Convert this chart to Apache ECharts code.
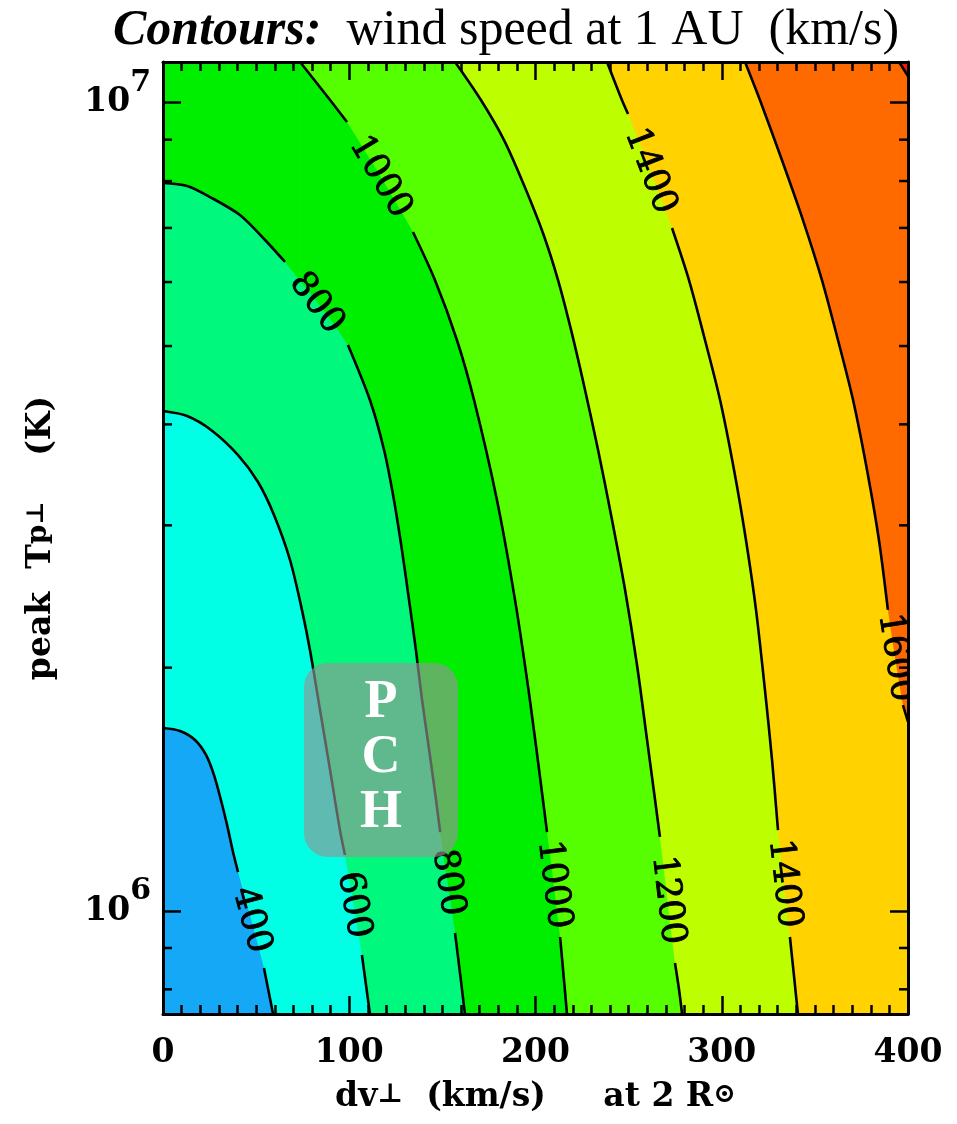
<!DOCTYPE html>
<html>
<head>
<meta charset="utf-8">
<script src="https://cdn.jsdelivr.net/npm/echarts@6/dist/echarts.min.js"></script>
<style>
html,body{margin:0;padding:0;background:#ffffff;}
#c{width:957px;height:1124px;}
</style>
</head>
<body>
<div id="c"></div>
<script>
// ---------- axis ranges & ticks ----------
const DV_MIN = 0, DV_MAX = 400;
const T_MIN = 7.457e5, T_MAX = 1.123e7;
const xTicks = [0, 100, 200, 300, 400];
const yMajorTicks = [1e6, 1e7];
const yMinorTicks = [8e5, 9e5, 2e6, 3e6, 4e6, 5e6, 6e6, 7e6, 8e6, 9e6];

// ---------- contour levels (km/s) and band colours ----------
const levels = [400, 600, 800, 1000, 1200, 1400, 1600, 1800];
const bandColors = ['#14a8f6', '#00ffe4', '#00f97c', '#00ef00', '#55ff00', '#bdff00', '#ffd200', '#ff6a00', '#ff1400'];

// ---------- contour lines [dv (km/s), T (K)]; null = gap where the label sits ----------
const c400 = [[0, 1.684e6], [9.1, 1.67e6], [17.2, 1.628e6], [23.1, 1.56e6], [27.4, 1.473e6], [31.1, 1.372e6],
  [34.4, 1.278e6], [37.6, 1.183e6], [40.3, 1.117e6], null, [54.2, 8.503e5], [59.1, T_MIN]];
const c600 = [[0, 4.155e6], [12.9, 4.097e6], [25.8, 3.937e6], [40.3, 3.665e6], [51.0, 3.394e6], [59.6, 3.09e6],
  [68.2, 2.718e6], [74.6, 2.358e6], [78.9, 2.103e6], [84.3, 1.773e6], [89.7, 1.494e6], [95.0, 1.259e6], [97.7, 1.173e6], null,
  [106.8, 8.822e5], [109.0, 8.099e5], [111.1, T_MIN]];
const c800 = [[0, 7.955e6], [12.9, 7.887e6], [25.2, 7.644e6], [41.3, 7.262e6], [54.8, 6.763e6], [65.5, 6.353e6], null,
  [99.3, 5.015e6], [111.1, 4.287e6], [118.7, 3.718e6], [124.0, 3.225e6], [128.3, 2.796e6], [132.1, 2.426e6], [135.8, 2.103e6],
  [139.1, 1.824e6], [142.9, 1.582e6], [146.6, 1.372e6], [148.8, 1.252e6], null,
  [156.8, 9.392e5], [159.6, 8.334e5], [162.1, T_MIN]];
const c1000 = [[73.6, T_MAX], [89.7, 1.0077e7], [98.8, 9.465e6], null,
  [134.2, 6.918e6], [146.0, 6.034e6], [157.8, 5.087e6], [167.0, 4.287e6], [179.3, 3.225e6], [189.0, 2.426e6],
  [197.0, 1.824e6], [204.0, 1.372e6], [206.2, 1.252e6], null,
  [213.2, 9.286e5], [215.3, 8.215e5], [216.9, T_MIN]];
const c1200 = [[156.8, T_MAX], [170.7, 1.0077e7], [183.1, 8.991e6], [193.8, 7.91e6], [204.0, 6.899e6], [212.1, 6.034e6],
  [219.1, 5.235e6], [226.0, 4.475e6], [233.6, 3.718e6], [241.1, 3.046e6], [248.1, 2.495e6], [254.5, 2.015e6],
  [259.9, 1.628e6], [264.2, 1.372e6], [266.8, 1.235e6], null,
  [274.9, 8.623e5], [277.1, 7.985e5], [278.7, T_MIN]];
const c1400 = [[238.4, T_MAX], [246.4, 1.0077e7], [249.7, 9.683e6], null,
  [273.3, 6.998e6], [282.4, 6.034e6], [291.0, 5.087e6], [299.1, 4.287e6], [306.6, 3.512e6], [313.0, 2.877e6],
  [318.4, 2.358e6], [323.2, 1.877e6], [327.0, 1.538e6], [330.2, 1.259e6], null,
  [336.6, 9.286e5], [339.3, 8.099e5], [340.9, T_MIN]];
const c1600 = [[312.5, T_MAX], [320.5, 1.0077e7], [332.3, 8.493e6], [343.6, 7.159e6], [353.8, 6.034e6], [362.4, 5.087e6],
  [370.5, 4.287e6], [378.0, 3.512e6], [384.4, 2.877e6], [389.2, 2.358e6], null,
  [397.3, 1.798e6], [400, 1.714e6]];
const c1800 = [[395.2, T_MAX], [400, 1.079e7]];
const contours = [c400, c600, c800, c1000, c1200, c1400, c1600, c1800];

// ---------- PCH box: [dv0, T0, dv1, T1] ----------
const pchBox = [75.7, 2.027e6, 158.4, 1.166e6];
const pchLetters = ['P', 'C', 'H'];

// ---------- texts ----------
const titleBold = 'Contours:';
const titleRest = 'wind speed at 1 AU  (km/s)';

const SERIF = '"DejaVu Serif", serif';
const TIMES = '"Liberation Serif", "Times New Roman", serif';
const SMOOTH = 0.3;

const series = [];
const fillSeries = (data, color, smooth) => ({
  type: 'line', data, symbol: 'none', silent: true, smooth,
  lineStyle: {width: 0}, areaStyle: {color, opacity: 1, origin: 'start'}, z: 1
});
// highest band covers the whole plot; each lower band is painted on top, left of its contour
series.push(fillSeries([[DV_MIN, T_MAX], [DV_MAX, T_MAX]], bandColors[levels.length], 0));
for (let i = levels.length - 1; i >= 0; i--) {
  const pts = contours[i].filter(p => p);
  if (pts[0][1] >= T_MAX) {
    series.push(fillSeries([[DV_MIN, T_MAX], [pts[0][0], T_MAX]], bandColors[i], 0));
  }
  series.push(fillSeries(pts, bandColors[i], SMOOTH));
}
// contour lines
contours.forEach(c => {
  series.push({
    type: 'line', data: c.map(p => p ? p : ['-', '-']), symbol: 'none', silent: true, smooth: SMOOTH,
    connectNulls: false, lineStyle: {color: '#000', width: 2.6}, z: 2
  });
});
// contour labels placed in the gaps
const labelData = [];
contours.forEach((c, k) => {
  c.forEach((p, i) => {
    if (p === null) labelData.push([c[i - 1][0], c[i - 1][1], c[i + 1][0], c[i + 1][1], levels[k]]);
  });
});
series.push({
  type: 'custom', data: labelData, encode: {x: [0, 2], y: [1, 3]}, silent: true, z: 3, clip: true,
  renderItem: (params, api) => {
    const a = api.coord([api.value(0), api.value(1)]);
    const b = api.coord([api.value(2), api.value(3)]);
    const ang = Math.atan2(b[1] - a[1], b[0] - a[0]);
    return {
      type: 'text', x: (a[0] + b[0]) / 2, y: (a[1] + b[1]) / 2, rotation: -ang,
      style: {text: String(api.value(4)), font: '35px ' + SERIF, fill: '#000', stroke: '#000', lineWidth: 0.9,
        align: 'center', verticalAlign: 'middle'}
    };
  }
});
// PCH box
series.push({
  type: 'custom', data: [pchBox], encode: {x: [0, 2], y: [1, 3]}, silent: true, z: 4,
  renderItem: (params, api) => {
    const p0 = api.coord([api.value(0), api.value(1)]);
    const p1 = api.coord([api.value(2), api.value(3)]);
    const cx = (p0[0] + p1[0]) / 2, cy = (p0[1] + p1[1]) / 2;
    const h = p1[1] - p0[1];
    const children = [{
      type: 'rect', shape: {x: p0[0], y: p0[1], width: p1[0] - p0[0], height: h, r: 24},
      style: {fill: 'rgba(148,148,148,0.64)'}
    }];
    pchLetters.forEach((L, i) => {
      children.push({
        type: 'text', x: cx, y: cy - 0.01 * h + (i - 1) * 0.285 * h,
        style: {text: L, font: 'bold 54px ' + TIMES, fill: '#ffffff', align: 'center', verticalAlign: 'middle'}
      });
    });
    return {type: 'group', children};
  }
});
// minor ticks of the log axis (left & right)
series.push({
  type: 'custom', data: yMinorTicks.map(t => [DV_MIN, t]), silent: true, z: 20, clip: false,
  renderItem: (params, api) => {
    const l = api.coord([DV_MIN, api.value(1)]);
    const r = api.coord([DV_MAX, api.value(1)]);
    return {type: 'group', children: [
      {type: 'line', shape: {x1: l[0], y1: l[1], x2: l[0] + 9, y2: l[1]}, style: {stroke: '#000', lineWidth: 2.5}},
      {type: 'line', shape: {x1: r[0], y1: r[1], x2: r[0] - 9, y2: r[1]}, style: {stroke: '#000', lineWidth: 2.5}}
    ]};
  }
});

const axisLine = {show: true, onZero: false, lineStyle: {color: '#000', width: 3}};
const majorTick = {show: true, inside: true, length: 18, lineStyle: {color: '#000', width: 2.5}};
const xMinor = {show: true, splitNumber: 10, length: 9, lineStyle: {color: '#000', width: 2.5}};

const xBase = {
  type: 'value', min: DV_MIN, max: DV_MAX, interval: xTicks[1] - xTicks[0], z: 10,
  axisLine, axisTick: majorTick, minorTick: xMinor, splitLine: {show: false}, minorSplitLine: {show: false}
};
const yBase = {
  type: 'log', logBase: 10, min: T_MIN, max: T_MAX, z: 10,
  axisLine, axisTick: majorTick, splitLine: {show: false}, minorTick: {show: false}
};

const option = {
  animation: false,
  backgroundColor: '#ffffff',
  title: {
    text: '{a|' + titleBold + '}  {b|' + titleRest + '}',
    left: 108, top: -2,
    textStyle: {
      fontFamily: TIMES, fontSize: 50, fontWeight: 'normal', color: '#000', lineHeight: 56,
      rich: {
        a: {fontFamily: TIMES, fontSize: 50, fontWeight: 'bold', fontStyle: 'italic', color: '#000', lineHeight: 56},
        b: {fontFamily: TIMES, fontSize: 50, fontWeight: 'normal', color: '#000', lineHeight: 56}
      }
    }
  },
  grid: {left: 163, right: 49, top: 62, bottom: 110, containLabel: false},
  xAxis: [
    Object.assign({}, xBase, {
      position: 'bottom',
      axisLabel: {show: true, margin: 23, fontFamily: SERIF, fontWeight: 'bold', fontSize: 33, color: '#000',
        formatter: v => xTicks.indexOf(v) >= 0 ? String(v) : ''},
      name: '{m|dv}{s|⊥}{m|  (km/s)     at 2 R}{s|⊙}',
      nameLocation: 'middle', nameGap: 67,
      nameTextStyle: {
        rich: {
          m: {fontFamily: SERIF, fontWeight: 'bold', fontSize: 33, color: '#000', lineHeight: 33, verticalAlign: 'top'},
          s: {fontFamily: SERIF, fontWeight: 'bold', fontSize: 27, color: '#000', lineHeight: 56, verticalAlign: 'top'}
        }
      }
    }),
    Object.assign({}, xBase, {position: 'top', axisLabel: {show: false}})
  ],
  yAxis: [
    Object.assign({}, yBase, {
      position: 'left',
      axisLabel: {
        show: true, margin: 12,
        formatter: v => {
          const e = Math.round(Math.log10(v));
          const ok = yMajorTicks.some(t => Math.abs(t - v) / t < 1e-6);
          return ok ? '{b|10}{s|' + e + '}' : '';
        },
        rich: {
          b: {fontFamily: SERIF, fontWeight: 'bold', fontSize: 33, color: '#000', lineHeight: 70, verticalAlign: 'middle'},
          s: {fontFamily: SERIF, fontWeight: 'bold', fontSize: 30, color: '#000', lineHeight: 30, verticalAlign: 'top'}
        }
      },
      name: '{m|peak  T}{p|p}{q|⊥}{m|    (K)}',
      nameLocation: 'middle', nameGap: 78,
      nameTextStyle: {
        rich: {
          m: {fontFamily: SERIF, fontWeight: 'bold', fontSize: 33, color: '#000', lineHeight: 33, verticalAlign: 'top'},
          p: {fontFamily: SERIF, fontWeight: 'bold', fontSize: 28, color: '#000', lineHeight: 60, verticalAlign: 'top'},
          q: {fontFamily: SERIF, fontWeight: 'bold', fontSize: 24, color: '#000', lineHeight: 36, verticalAlign: 'top'}
        }
      }
    }),
    Object.assign({}, yBase, {position: 'right', axisLabel: {show: false}})
  ],
  series: series.map(s => Object.assign({xAxisIndex: 0, yAxisIndex: 0, animation: false}, s))
};

const chart = echarts.init(document.getElementById('c'), null, {renderer: 'canvas', width: 957, height: 1124});
chart.setOption(option);
</script>
</body>
</html>
